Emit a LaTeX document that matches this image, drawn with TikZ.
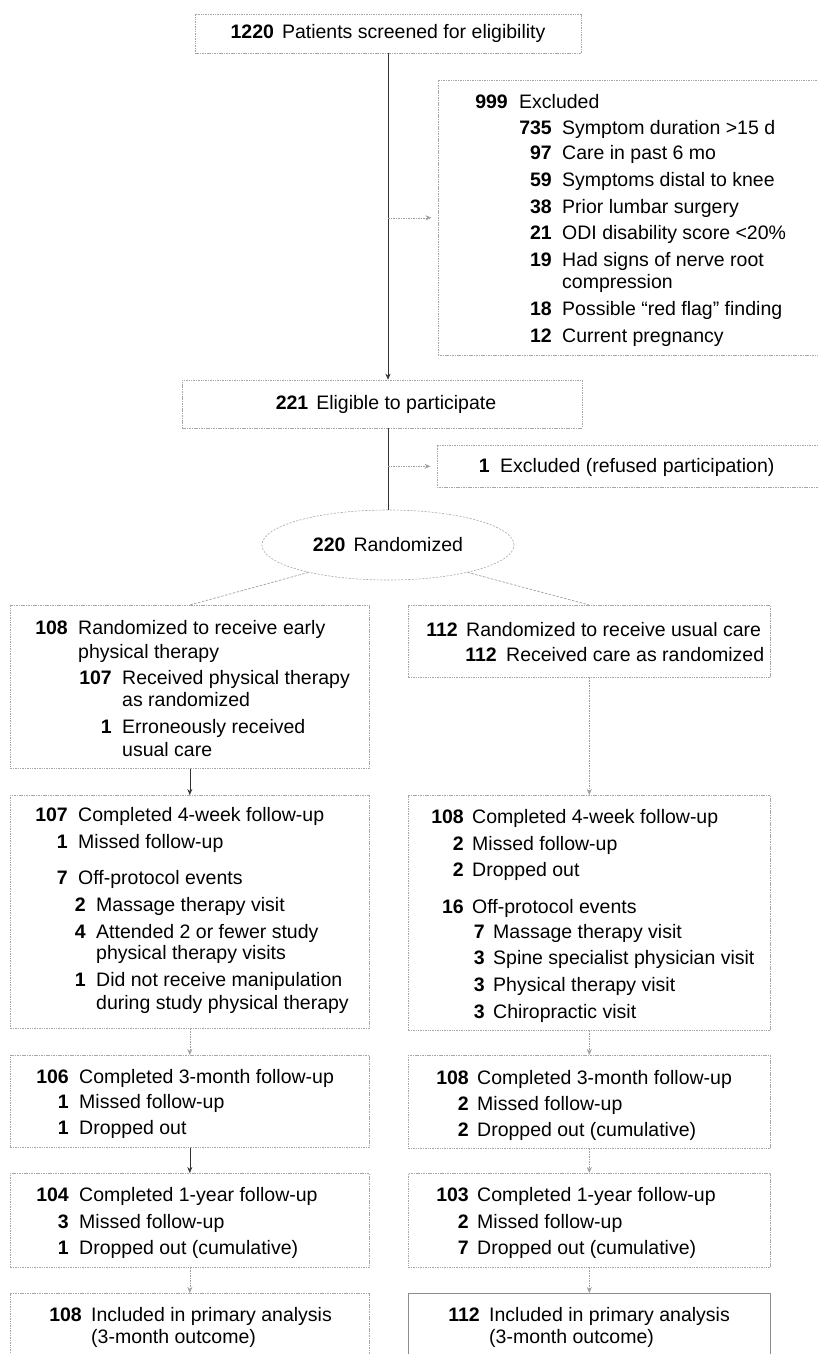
\documentclass[tikz,border=0pt]{standalone}
\usepackage{fontspec}
\setmainfont{Liberation Sans}
\usetikzlibrary{arrows.meta,shapes.geometric}
\newcommand{\myfs}{\fontsize{19.5pt}{22pt}\selectfont}
\newcounter{rowc}
% #1 number right x, #2 text left x, #3 centre y, #4 number, #5 text
\newcommand{\rowitem}[5]{%
  \stepcounter{rowc}%
  \node[num] (rn\therowc) at (#1,#3+6) {#4};
  \node[txt] (rt\therowc) at (#2,#3+6) {#5};}
% #1 text left x, #2 centre y, #3 text
\newcommand{\rowcont}[3]{%
  \stepcounter{rowc}%
  \node[txt] (rc\therowc) at (#1,#2+6) {#3};}
\tikzset{
  fbox/.style={draw=gray!70, line width=0.6pt, dash pattern=on 1.5pt off 0.9pt, rectangle, inner sep=0pt},
  lbox/.style={fbox, minimum width=359pt, anchor=north west},
  rbox/.style={fbox, minimum width=362pt, anchor=north west},
  num/.style={anchor=base east, inner sep=0pt, font=\myfs\bfseries},
  txt/.style={anchor=base west, inner sep=0pt, font=\myfs},
  link/.style={draw=black!80, line width=0.6pt, -{Stealth[length=6pt,width=5pt]}},
  dlink/.style={link, draw=gray!75, dash pattern=on 1.5pt off 1pt},
  dline/.style={draw=gray!75, line width=0.7pt, dash pattern=on 2.5pt off 1.5pt},
}
\begin{document}
\begin{tikzpicture}[x=1pt,y=-1pt]
\useasboundingbox (0,0) rectangle (817,1354);

% top section
\node[fbox, font=\myfs, minimum width=386pt, minimum height=39pt] (screen) at (388,33.5)
  {\textbf{1220}\hspace{8pt}Patients screened for eligibility};
\node[fbox, minimum width=400pt, minimum height=275pt, anchor=north west] (excl) at (437.5,80) {};
\rowitem{508}{519}{102}{999}{Excluded}
\rowitem{552}{562}{128}{735}{Symptom duration >15 d}
\rowitem{552}{562}{153}{97}{Care in past 6 mo}
\rowitem{552}{562}{180}{59}{Symptoms distal to knee}
\rowitem{552}{562}{207}{38}{Prior lumbar surgery}
\rowitem{552}{562}{233}{21}{ODI disability score <20\%}
\rowitem{552}{562}{260}{19}{Had signs of nerve root}
\rowcont{562}{282}{compression}
\rowitem{552}{562}{309}{18}{Possible “red flag” finding}
\rowitem{552}{562}{336}{12}{Current pregnancy}

\node[fbox, font=\myfs, minimum width=400pt, minimum height=48pt] (elig) at (382,404)
  {\hspace{8pt}\textbf{221}\hspace{8pt}Eligible to participate};
\node[fbox, minimum width=400pt, minimum height=42pt, anchor=north west] (excl2) at (436.5,445) {};
\rowitem{490}{500}{466}{1}{Excluded (refused participation)}

\node[ellipse, draw=gray!70, line width=0.6pt, dash pattern=on 2pt off 1.5pt,
      minimum width=252pt, minimum height=70pt, inner sep=0pt, font=\myfs] (rand) at (388,545)
  {\textbf{220}\hspace{8pt}Randomized};

\draw[link] (screen.south) -- (screen.south |- elig.north);
\draw[dlink, shorten >=6pt] (screen.south |- excl.west) -- (excl.west);
\draw[draw=black!80, line width=0.6pt] (rand.north |- elig.south) -- (rand.north);
\draw[dlink, shorten >=6pt] (rand.north |- excl2.west) -- (excl2.west);

% arm boxes
\node[lbox, minimum height=163pt] (L1) at (10,605) {};
\node[rbox, minimum height=72pt] (R1) at (408,605) {};
\draw[dline] (rand.199) -- (L1.north);
\draw[dline] (rand.-19) -- (R1.north);

\rowitem{68}{78}{628}{108}{Randomized to receive early}
\rowcont{78}{652}{physical therapy}
\rowitem{112}{122}{678}{107}{Received physical therapy}
\rowcont{122}{700}{as randomized}
\rowitem{112}{122}{727}{1}{Erroneously received}
\rowcont{122}{750}{usual care}

\rowitem{458}{466}{630}{112}{Randomized to receive usual care}
\rowitem{497}{506}{655}{112}{Received care as randomized}

% 4-week
\node[lbox, minimum height=233pt] (L2) at (10,795) {};
\node[rbox, minimum height=235pt] (R2) at (408,795) {};
\draw[link] (L1.south) -- (L2.north);
\draw[dlink] (R1.south) -- (R2.north);

\rowitem{68}{78}{815}{107}{Completed 4-week follow-up}
\rowitem{68}{78}{842}{1}{Missed follow-up}
\rowitem{68}{78}{878}{7}{Off-protocol events}
\rowitem{86}{96}{905}{2}{Massage therapy visit}
\rowitem{86}{96}{932}{4}{Attended 2 or fewer study}
\rowcont{96}{953}{physical therapy visits}
\rowitem{86}{96}{980}{1}{Did not receive manipulation}
\rowcont{96}{1003}{during study physical therapy}

\rowitem{464}{472}{817}{108}{Completed 4-week follow-up}
\rowitem{464}{472}{844}{2}{Missed follow-up}
\rowitem{464}{472}{870}{2}{Dropped out}
\rowitem{464}{472}{907}{16}{Off-protocol events}
\rowitem{485}{493}{932}{7}{Massage therapy visit}
\rowitem{485}{493}{958}{3}{Spine specialist physician visit}
\rowitem{485}{493}{985}{3}{Physical therapy visit}
\rowitem{485}{493}{1012}{3}{Chiropractic visit}

% 3-month
\node[lbox, minimum height=92pt] (L3) at (10,1055) {};
\node[rbox, minimum height=93pt] (R3) at (408,1055) {};
\draw[dlink] (L2.south) -- (L3.north);
\draw[dlink] (R2.south) -- (R3.north);

\rowitem{69}{79}{1077}{106}{Completed 3-month follow-up}
\rowitem{69}{79}{1102}{1}{Missed follow-up}
\rowitem{69}{79}{1128}{1}{Dropped out}

\rowitem{469}{477}{1078}{108}{Completed 3-month follow-up}
\rowitem{469}{477}{1104}{2}{Missed follow-up}
\rowitem{469}{477}{1130}{2}{Dropped out (cumulative)}

% 1-year
\node[lbox, minimum height=94pt] (L4) at (10,1173) {};
\node[rbox, minimum height=94pt] (R4) at (408,1173) {};
\draw[link] (L3.south) -- (L4.north);
\draw[dlink] (R3.south) -- (R4.north);

\rowitem{69}{79}{1195}{104}{Completed 1-year follow-up}
\rowitem{69}{79}{1222}{3}{Missed follow-up}
\rowitem{69}{79}{1248}{1}{Dropped out (cumulative)}

\rowitem{469}{477}{1195}{103}{Completed 1-year follow-up}
\rowitem{469}{477}{1222}{2}{Missed follow-up}
\rowitem{469}{477}{1248}{7}{Dropped out (cumulative)}

% analysis
\node[lbox, minimum height=90pt] (L5) at (10,1293) {};
\node[rbox, minimum height=90pt, draw=gray!90, solid] (R5) at (408,1293) {};
\draw[dlink] (L4.south) -- (L5.north);
\draw[dlink] (R4.south) -- (R5.north);

\rowitem{82}{91}{1315}{108}{Included in primary analysis}
\rowcont{91}{1337}{(3-month outcome)}
\rowitem{480}{489}{1315}{112}{Included in primary analysis}
\rowcont{489}{1337}{(3-month outcome)}
\end{tikzpicture}
\end{document}
